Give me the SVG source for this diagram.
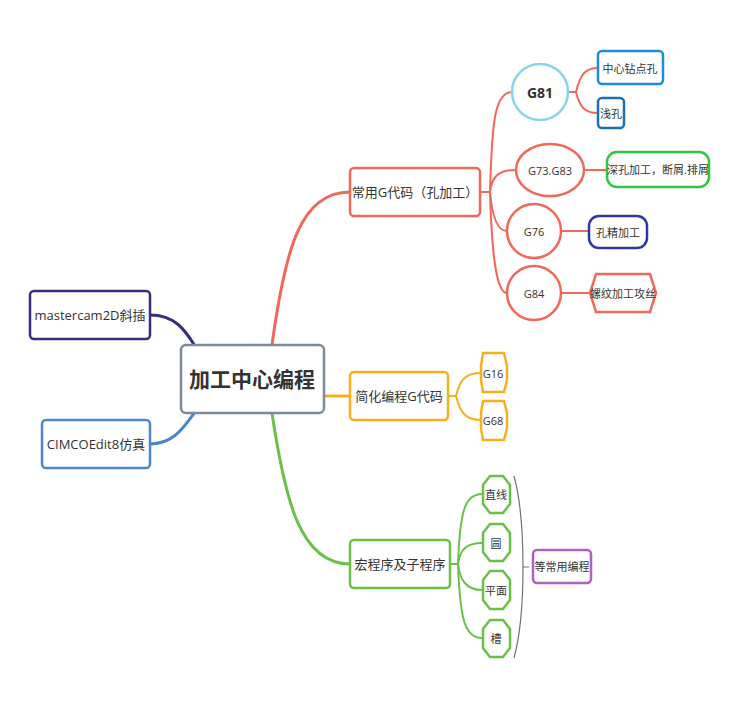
<svg xmlns="http://www.w3.org/2000/svg" width="739" height="707" viewBox="0 0 739 707">
<style>
text{font-family:"Open Sans","Noto Sans CJK SC",sans-serif;fill:#333;font-size:12px;text-anchor:middle;dominant-baseline:central}
.n{fill:#fff;stroke-width:2.5}
.c{fill:none;stroke-width:3}
</style>
<rect width="739" height="707" fill="#fff"/>
<g id="connectors">
<path class="c" stroke="#3c2c7c" d="M150,315 C175,315 185,330 195,346"/>
<path class="c" stroke="#4a86c8" d="M150,444 C175,444 185,425 195,412"/>
<path class="c" stroke="#f0685a" d="M272,345 C285,250 300,192 350,192"/>
<path class="c" stroke="#f5b01f" d="M324,396 L350,396"/>
<path class="c" stroke="#6cc04a" d="M272,413 C285,500 300,564 350,564"/>
<g stroke="#f0685a" fill="none" stroke-width="2">
<path d="M480,192 L490,192"/>
<path d="M490,192 C492,120 495,92 512,92"/>
<path d="M490,192 C492,175 500,170 516,170"/>
<path d="M490,192 C492,215 497,231 507,231"/>
<path d="M490,192 C492,260 497,293 507,293"/>
<path d="M568,92 L576,92 C580,75 585,68 598,68"/>
<path d="M576,92 C580,108 585,113 598,113"/>
<path d="M584,170 L607,170"/>
<path d="M561,231 L589,231"/>
<path d="M561,293 L589,293"/>
</g>
<g stroke="#f5b01f" fill="none" stroke-width="2">
<path d="M448,396 L456,396 C460,380 465,373 481,373"/>
<path d="M456,396 C460,412 465,420 481,420"/>
</g>
<g stroke="#6cc04a" fill="none" stroke-width="2">
<path d="M450,564 L458,564 C460,510 465,494 482,494"/>
<path d="M458,564 C460,550 466,543 482,543"/>
<path d="M458,564 C460,580 466,590 482,590"/>
<path d="M458,564 C460,620 465,638 482,638"/>
</g>
<path d="M514,476 C526,520 526,614 514,658 M523,567 L529,567" fill="none" stroke="#6a7280" stroke-width="1.2"/>
</g>
<g id="center"><rect class="n" x="181" y="345" width="143" height="68" rx="5" stroke="#7d8a99"/><text x="252" y="379" style="font-size:21px;font-weight:bold">加工中心编程</text></g>
<g id="mastercam"><rect class="n" x="30" y="291" width="120" height="48" rx="4" stroke="#3c2c7c"/><text x="90" y="315" style="font-size:13px">mastercam2D斜插</text></g>
<g id="cimco"><rect class="n" x="42" y="420" width="108" height="48" rx="4" stroke="#4a86c8"/><text x="96" y="444" style="font-size:13px">CIMCOEdit8仿真</text></g>
<g id="b1"><rect class="n" x="350" y="168" width="130" height="48" rx="4" stroke="#f0685a"/><text x="415" y="192" style="font-size:13px">常用G代码（孔加工）</text></g>
<g id="b2"><rect class="n" x="350" y="372" width="98" height="48" rx="4" stroke="#f5b01f"/><text x="399" y="396" style="font-size:13px">简化编程G代码</text></g>
<g id="b3"><rect class="n" x="350" y="540" width="100" height="48" rx="4" stroke="#6cc04a"/><text x="400" y="564" style="font-size:13px">宏程序及子程序</text></g>
<g id="g81"><circle class="n" cx="540" cy="92" r="28" stroke="#8ad4ee"/><text x="540" y="92" style="font-size:14px;font-weight:bold">G81</text></g>
<g id="zx"><rect class="n" x="598" y="51" width="65" height="33" rx="4" stroke="#1a8fd8"/><text x="630" y="68" style="font-size:11px">中心钻点孔</text></g>
<g id="qk"><rect class="n" x="598" y="98" width="26" height="30" rx="4" stroke="#1a70b8"/><text x="611" y="113" style="font-size:11px">浅孔</text></g>
<g id="g73"><ellipse class="n" cx="550" cy="170" rx="34" ry="26" stroke="#f0685a"/><text x="550" y="170" style="font-size:11px">G73.G83</text></g>
<g id="sk"><rect class="n" x="607" y="152" width="102" height="35" rx="10" stroke="#2ec840"/><text x="658" y="169" style="font-size:11px">深孔加工，断屑.排屑</text></g>
<g id="g76"><circle class="n" cx="534" cy="231" r="27" stroke="#f0685a"/><text x="534" y="231" style="font-size:11px">G76</text></g>
<g id="kj"><rect class="n" x="589" y="216" width="58" height="32" rx="10" stroke="#2c3a9c"/><text x="618" y="232" style="font-size:11px">孔精加工</text></g>
<g id="g84"><circle class="n" cx="534" cy="293" r="27" stroke="#f0685a"/><text x="534" y="293" style="font-size:11px">G84</text></g>
<g id="lw"><polygon class="n" points="596,274 650,274 656,293 650,312 596,312 590,293" stroke="#f0685a"/><text x="623" y="293" style="font-size:11px">螺纹加工攻丝</text></g>
<g id="g16"><polygon class="n" points="483,353 504,353 507,366 507,380 504,392 483,392 481,380 481,366" stroke="#f5b01f"/><text x="493" y="373" style="font-size:11px">G16</text></g>
<g id="g68"><polygon class="n" points="483,401 504,401 507,413 507,428 504,440 483,440 481,428 481,413" stroke="#f5b01f"/><text x="493" y="420" style="font-size:11px">G68</text></g>
<g id="zxian"><polygon class="n" points="490,476 503,476 510,485 510,504 503,513 490,513 483,504 483,485" stroke="#6cc04a"/><text x="496" y="494" style="font-size:11px">直线</text></g>
<g id="yuan"><polygon class="n" points="490,524 503,524 510,533 510,552 503,561 490,561 483,552 483,533" stroke="#6cc04a"/><text x="496" y="543" style="font-size:11px">圆</text></g>
<g id="pm"><polygon class="n" points="490,571 503,571 510,580 510,600 503,609 490,609 483,600 483,580" stroke="#6cc04a"/><text x="496" y="590" style="font-size:11px">平面</text></g>
<g id="cao"><polygon class="n" points="490,620 503,620 510,629 510,648 503,657 490,657 483,648 483,629" stroke="#6cc04a"/><text x="496" y="638" style="font-size:11px">槽</text></g>
<g id="dcy"><rect class="n" x="533" y="550" width="58" height="33" rx="4" stroke="#b060c0"/><text x="562" y="566" style="font-size:11px">等常用编程</text></g>
</svg>
